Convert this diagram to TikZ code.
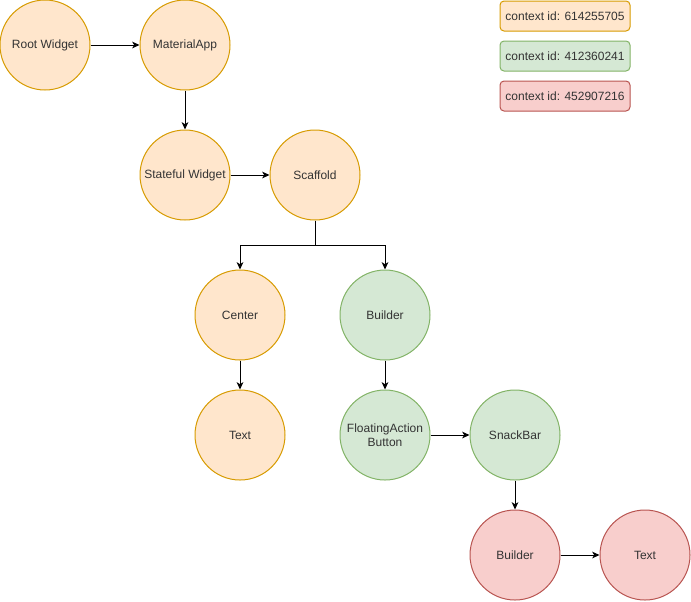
\documentclass[tikz,border=0pt]{standalone}
\usepackage{fontspec}
\setmainfont{Liberation Sans}
\usetikzlibrary{arrows.meta}
\definecolor{orfill}{HTML}{FFE6CC}
\definecolor{ordraw}{HTML}{D79B00}
\definecolor{grfill}{HTML}{D5E8D4}
\definecolor{grdraw}{HTML}{82B366}
\definecolor{rdfill}{HTML}{F8CECC}
\definecolor{rddraw}{HTML}{B85450}
\definecolor{txt}{HTML}{333333}
\tikzset{
  widget/.style={circle,draw,minimum size=67.5pt,inner sep=0pt,align=center,
    text=txt,font=\fontsize{9pt}{10.5pt}\selectfont},
  ctxa/.style={fill=orfill,draw=ordraw},
  ctxb/.style={fill=grfill,draw=grdraw},
  ctxc/.style={fill=rdfill,draw=rddraw},
  legend/.style={rectangle,rounded corners=3pt,draw,minimum width=97.5pt,
    minimum height=22.5pt,text=txt,font=\fontsize{9pt}{10.5pt}\selectfont},
}
\begin{document}
\begin{tikzpicture}[>={Stealth[length=5.5pt,width=5pt,inset=1.5pt]},x=0.75pt,y=-0.75pt,line width=0.75pt]
\useasboundingbox (0,0) rectangle (691,601);

% legend
\node[legend,ctxa] (lega) at (565,16) {context id: 614255705};
\node[legend,ctxb] (legb) at (565,56) {context id: 412360241};
\node[legend,ctxc] (legc) at (565,96) {context id: 452907216};

% widget tree
\node[widget,ctxa] (root) at (45,45) {Root Widget};
\node[widget,ctxa] (app) at (185,45) {MaterialApp};
\node[widget,ctxa] (stateful) at (185,175) {Stateful Widget};
\node[widget,ctxa] (scaffold) at (315,175) {Scaffold};
\node[widget,ctxa] (center) at (240,315) {Center};
\node[widget,ctxa] (text) at (240,435) {Text};
\node[widget,ctxb] (builder) at (385,315) {Builder};
\node[widget,ctxb] (fab) at (385,435) {FloatingAction\\Button};
\node[widget,ctxb] (snack) at (515,435) {SnackBar};
\node[widget,ctxc] (builder2) at (515,555) {Builder};
\node[widget,ctxc] (text2) at (645,555) {Text};

\draw[->] (root) -- (app);
\draw[->] (app) -- (stateful);
\draw[->] (stateful) -- (scaffold);
\draw[->] (scaffold.south) -- ++(0,25) -| (center.north);
\draw[->] (scaffold.south) -- ++(0,25) -| (builder.north);
\draw[->] (center) -- (text);
\draw[->] (builder) -- (fab);
\draw[->] (fab) -- (snack);
\draw[->] (snack) -- (builder2);
\draw[->] (builder2) -- (text2);
\end{tikzpicture}
\end{document}
